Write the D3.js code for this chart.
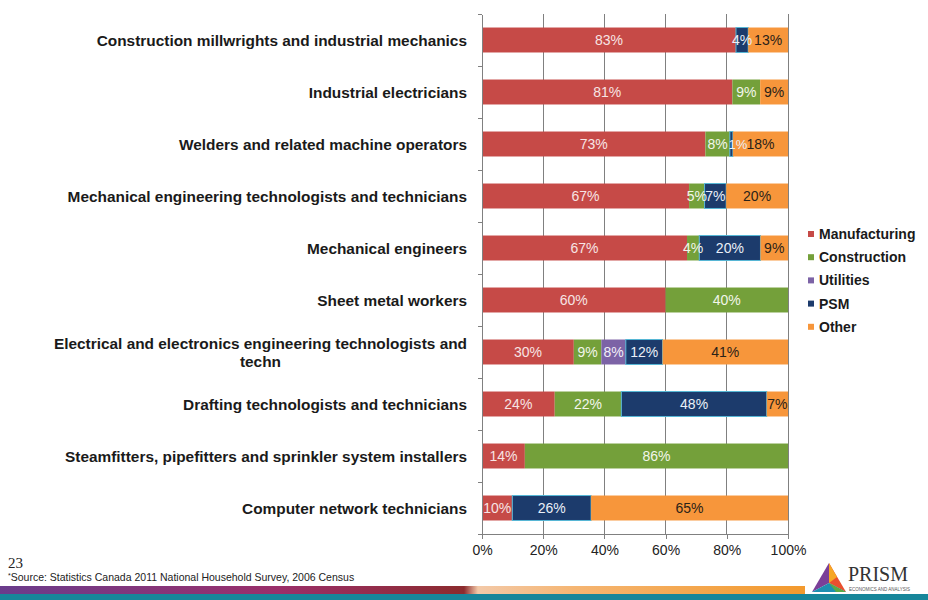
<!DOCTYPE html>
<html><head><meta charset="utf-8">
<script src="https://cdn.jsdelivr.net/npm/d3@7"></script>
<style>body{margin:0;background:#fff}svg{display:block}</style>
</head><body>
<svg id="c" width="928" height="600"></svg>
<script>
const categories = [
  "Construction millwrights and industrial mechanics",
  "Industrial electricians",
  "Welders and related machine operators",
  "Mechanical engineering technologists and technicians",
  "Mechanical engineers",
  "Sheet metal workers",
  "Electrical and electronics engineering technologists and|techn",
  "Drafting technologists and technicians",
  "Steamfitters, pipefitters and sprinkler system installers",
  "Computer network technicians"
];
const seriesNames = ["Manufacturing","Construction","Utilities","PSM","Other"];
const manufacturing = [83,81,73,67,67,60,30,24,14,10];
const construction  = [0,9,8,5,4,40,9,22,86,0];
const utilities     = [0,0,0,0,0,0,8,0,0,0];
const psm           = [4,0,1,7,20,0,12,48,0,26];
const other         = [13,9,18,20,9,0,41,7,0,65];
const xTicks = [0,0.2,0.4,0.6,0.8,1];
const colors = ["#C64A47","#74A03A","#7C63A6","#1C3B6C","#F7963B"];
const labelColors = ["#F7E4E4","#F2F6EA","#F2EEF8","#EAF0F8","#2A2218"];

const seriesData = [manufacturing,construction,utilities,psm,other];
const rows = categories.map((c,i)=>{const r={cat:c}; seriesNames.forEach((s,k)=>r[s]=seriesData[k][i]); return r;});

const svg = d3.select("#c");
const pL=482, pR=788, pT=14, pB=534;
const x = d3.scaleLinear().domain([0,1]).range([pL,pR]);
const y = d3.scaleBand().domain(categories).range([pT,pB]).paddingInner(0.52).paddingOuter(0.26);
const FONT = "Liberation Sans, Arial, sans-serif";

// gridlines
svg.append("g").selectAll("line").data(xTicks.slice(1)).join("line")
  .attr("x1",d=>x(d)).attr("x2",d=>x(d)).attr("y1",pT).attr("y2",pB)
  .attr("stroke","#808080").attr("stroke-width",1).attr("shape-rendering","crispEdges");

const stack = d3.stack().keys(seriesNames).offset(d3.stackOffsetExpand);
const stacked = stack(rows);

const g = svg.append("g");
stacked.forEach((layer,k)=>{
  const gl = g.append("g");
  gl.selectAll("rect").data(layer.filter(d=>d.data[seriesNames[k]]>0)).join("rect")
    .attr("x",d=>x(d[0])).attr("width",d=>x(d[1])-x(d[0]))
    .attr("y",d=>y(d.data.cat)).attr("height",y.bandwidth())
    .attr("fill",colors[k])
    .attr("stroke",k===3?"#56B7D6":"none").attr("stroke-width",k===3?1:0);
});
stacked.forEach((layer,k)=>{
  g.append("g").selectAll("text").data(layer.filter(d=>d.data[seriesNames[k]]>0)).join("text")
    .attr("x",d=>(x(d[0])+x(d[1]))/2 + (k===3 && d.data[seriesNames[k]]<3 ? 6.5 : 0))
    .attr("y",d=>y(d.data.cat)+y.bandwidth()/2)
    .attr("dy","0.36em").attr("text-anchor","middle")
    .attr("font-family",FONT).attr("font-size",d=>d.data[seriesNames[k]]<3?13:14)
    .attr("fill",labelColors[k])
    .text(d=>d.data[seriesNames[k]]+"%");
});

// y axis with boundary ticks
const yb = d3.scaleLinear().domain([0,categories.length]).range([pT,pB]);
const ya = svg.append("g").attr("transform",`translate(${pL},0)`)
  .call(d3.axisLeft(yb).tickValues(d3.range(categories.length+1)).tickFormat("").tickSize(4).tickSizeOuter(0));
ya.selectAll("path,line").attr("stroke","#808080").attr("shape-rendering","crispEdges");

// x axis
const xa = svg.append("g").attr("transform",`translate(0,${pB})`)
  .call(d3.axisBottom(x).tickValues(xTicks).tickFormat(d3.format(".0%")).tickSize(5).tickSizeOuter(0));
xa.selectAll("path,line").attr("stroke","#808080").attr("shape-rendering","crispEdges");
xa.selectAll("text").attr("font-family",FONT).attr("font-size",14).attr("fill","#222").attr("dy","0.95em");

// category labels
const cl = svg.append("g").attr("font-family",FONT).attr("font-size",15.4).attr("font-weight","bold").attr("fill","#1a1a1a");
categories.forEach(c=>{
  const cy = y(c)+y.bandwidth()/2;
  const parts = c.split("|");
  if(parts.length===1){
    cl.append("text").attr("x",467).attr("y",cy).attr("dy","0.36em").attr("text-anchor","end").text(c);
  } else {
    const t1 = cl.append("text").attr("x",467).attr("y",cy-9).attr("dy","0.36em").attr("text-anchor","end").text(parts[0]);
    const w = t1.node().getComputedTextLength();
    cl.append("text").attr("x",467-w/2).attr("y",cy+9).attr("dy","0.36em").attr("text-anchor","middle").text(parts[1]);
  }
});

// legend
const lg = svg.append("g").attr("font-family",FONT).attr("font-size",14).attr("font-weight","bold").attr("fill","#1a1a1a");
seriesNames.forEach((s,k)=>{
  const ly = 234 + k*23.2;
  lg.append("rect").attr("x",808).attr("y",ly-3).attr("width",6).attr("height",6).attr("fill",colors[k]);
  lg.append("text").attr("x",819).attr("y",ly).attr("dy","0.36em").text(s);
});

// footer
svg.append("text").attr("x",8).attr("y",568).attr("font-family","Liberation Serif, serif").attr("font-size",15).attr("fill","#222").text("23");
const src = svg.append("text").attr("x",8).attr("y",581).attr("font-family",FONT).attr("font-size",10.5).attr("fill","#222");
src.append("tspan").attr("font-size",7).attr("dy",-3).text("*");
src.append("tspan").attr("dy",3).text("Source: Statistics Canada 2011 National Household Survey, 2006 Census");

const defs = svg.append("defs");
const gr = defs.append("linearGradient").attr("id","band").attr("x1","0").attr("x2","1");
[[0,"#6A3C8C"],[0.3,"#9B2F6A"],[0.5,"#8C2B2E"],[0.515,"#F3C9A8"],[0.62,"#F5B572"],[0.86,"#F39A2E"],[1,"#F39A2E"]]
  .forEach(([o,c])=>gr.append("stop").attr("offset",o).attr("stop-color",c));
svg.append("rect").attr("x",0).attr("y",586).attr("width",928).attr("height",8).attr("fill","url(#band)");
svg.append("rect").attr("x",0).attr("y",594).attr("width",928).attr("height",6).attr("fill","#17869A");
svg.append("rect").attr("x",805).attr("y",584).attr("width",123).attr("height",10).attr("fill","#fff");

// PRISM logo
const tri = svg.append("g");
const A=[829,563],B=[812,592],C=[846,592],M=[829,583];
const tris=[[A,B,M,"#7B3F98"],[A,M,C,"#E8502E"],[B,M,C,"#1E8FB0"]];
tris.forEach(t=>tri.append("path").attr("d",d3.line()([t[0],t[1],t[2]])+"Z").attr("fill",t[3]));
tri.append("path").attr("d",d3.line()([[829,563],[837,577],[829,583]])+"Z").attr("fill","#F6A623");
tri.append("path").attr("d",d3.line()([[846,592],[829,583],[836,592]])+"Z").attr("fill","#5BAA45");
svg.append("text").attr("x",848).attr("y",580.5).attr("font-family","Liberation Serif, serif").attr("font-size",20).attr("fill","#333").text("PRISM");
svg.append("text").attr("x",849).attr("y",591).attr("font-family",FONT).attr("font-size",4.5).attr("fill","#555").text("ECONOMICS AND ANALYSIS");
</script>
</body></html>
